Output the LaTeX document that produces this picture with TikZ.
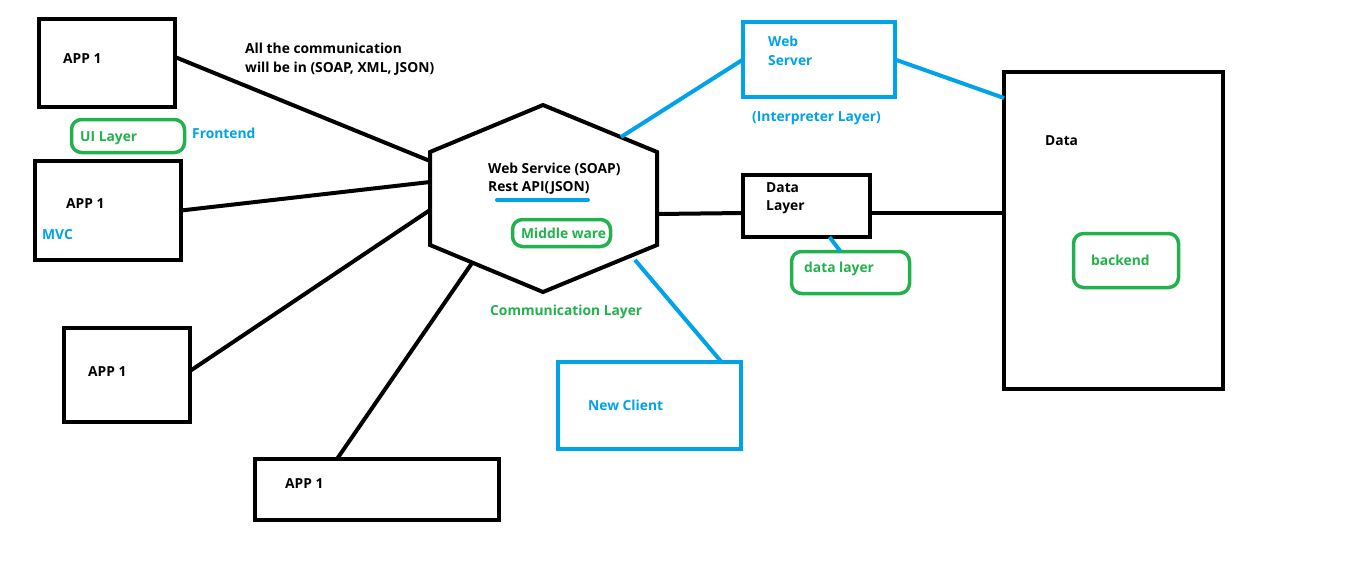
\documentclass[tikz,border=0pt]{standalone}
\usepackage{fontspec}
\setmainfont{Open Sans}
\usetikzlibrary{calc}
\definecolor{pblue}{RGB}{0,162,232}
\definecolor{pgreen}{RGB}{34,177,76}
\begin{document}
\begin{tikzpicture}[x=1pt,y=-1pt,
  box/.style={draw=black,line width=4pt,inner sep=0pt,outer sep=0pt},
  bbox/.style={draw=pblue,line width=4pt,inner sep=0pt,outer sep=0pt},
  gbox/.style={draw=pgreen,line width=3.5pt,rounded corners=10pt,inner sep=0pt,outer sep=0pt},
  lbl/.style={anchor=base west,inner sep=0pt,font=\bfseries\fontsize{13.8}{16}\selectfont},
  blk/.style={line width=4pt,draw=black},
  blu/.style={line width=4pt,draw=pblue}]
\useasboundingbox[fill=white] (0,0) rectangle (1360,563);

% boxes
\node[box,minimum width=136,minimum height=88] (app1) at (107,63) {};
\node[box,minimum width=146,minimum height=99] (app2) at (108,210.5) {};
\node[box,minimum width=126,minimum height=94] (app3) at (127,375) {};
\node[box,minimum width=244,minimum height=61] (app4) at (377,489.5) {};
\node[bbox,minimum width=183,minimum height=87] (client) at (649.5,405.5) {};
\node[bbox,minimum width=152,minimum height=75] (web) at (819,59.5) {};
\node[box,minimum width=127,minimum height=62] (dlayer) at (806.5,206) {};
\node[box,minimum width=219,minimum height=317] (data) at (1113.5,230.5) {};
\node[gbox,minimum width=113,minimum height=33] (ui) at (128,136) {};
\node[gbox,minimum width=98,minimum height=27] (mw) at (561.5,233) {};
\node[gbox,minimum width=118,minimum height=42] (dlr) at (850.5,272.5) {};
\node[gbox,minimum width=105,minimum height=54] (back) at (1126,260.5) {};

% hexagon
\coordinate (hT) at (543,105);
\coordinate (hUR) at (657,152);
\coordinate (hLR) at (657,245);
\coordinate (hB) at (543,292);
\coordinate (hLL) at (430,245);
\coordinate (hUL) at (430,152);
\draw[blk,line join=miter] (hT) -- (hUR) -- (hLR) -- (hB) -- (hLL) -- (hUL) -- cycle;
\coordinate (h1) at (430,161);
\coordinate (h2) at (430,182);
\coordinate (h3) at (430,210);
\coordinate (h4) at (472,263);
\coordinate (hR) at (657,214);
\coordinate (hWS) at (621,137);
\coordinate (hNC) at (635,260);

% connectors
\draw[blk] ([yshift=6pt]app1.east) -- (h1);
\draw[blk] (app2.east) -- (h2);
\draw[blk] ([yshift=4pt]app3.east) -- (h3);
\draw[blk] ([xshift=-40pt]app4.north) -- (h4);
\draw[blk] (hR) -- ([yshift=-7pt]dlayer.west);
\draw[blk] ([yshift=-7pt]dlayer.east) -- ([yshift=-7pt]dlayer.east -| data.west);
\draw[blu] (hWS) -- (web.west);
\draw[blu] (web.east) -- ([yshift=-26pt]data.north west);
\draw[blu] ([xshift=23pt]dlayer.south) -- ([xshift=-10pt]dlr.north);
\draw[blu] (hNC) -- ([xshift=72pt]client.north);
\draw[pblue,line width=4pt,line cap=round] (497,200) -- (588,200);

% labels
\node[lbl] (t1) at (63,63) {APP 1};
\node[lbl] (t2) at (66,208) {APP 1};
\node[lbl] (t3) at (88,376) {APP 1};
\node[lbl] (t4) at (285,488) {APP 1};
\node[lbl] (tc1) at (245,53) {All the communication};
\node[lbl] (tc2) at (245,72) {will be in (SOAP, XML, JSON)};
\node[lbl,text=pgreen] (tui) at (80,141) {UI Layer};
\node[lbl,text=pblue] (tfe) at (192,138) {Frontend};
\node[lbl,text=pblue] (tmvc) at (42,239) {MVC};
\node[lbl] (tws1) at (488,173) {Web Service (SOAP)};
\node[lbl] (tws2) at (488,191) {Rest API(JSON)};
\node[lbl,text=pgreen] (tmw) at (521,238) {Middle ware};
\node[lbl,text=pgreen] (tcl) at (490,315) {Communication Layer};
\node[lbl,text=pblue] (tnc) at (588,410) {New Client};
\node[lbl,text=pblue] (tweb1) at (768,46) {Web};
\node[lbl,text=pblue] (tweb2) at (768,65) {Server};
\node[lbl,text=pblue] (til) at (752,121) {(Interpreter Layer)};
\node[lbl] (tdata) at (1045,145) {Data};
\node[lbl] (tdl1) at (766,192) {Data};
\node[lbl] (tdl2) at (766,210) {Layer};
\node[lbl,text=pgreen] (tdlr) at (804,272) {data layer};
\node[lbl,text=pgreen] (tback) at (1091,265) {backend};
\end{tikzpicture}
\end{document}
